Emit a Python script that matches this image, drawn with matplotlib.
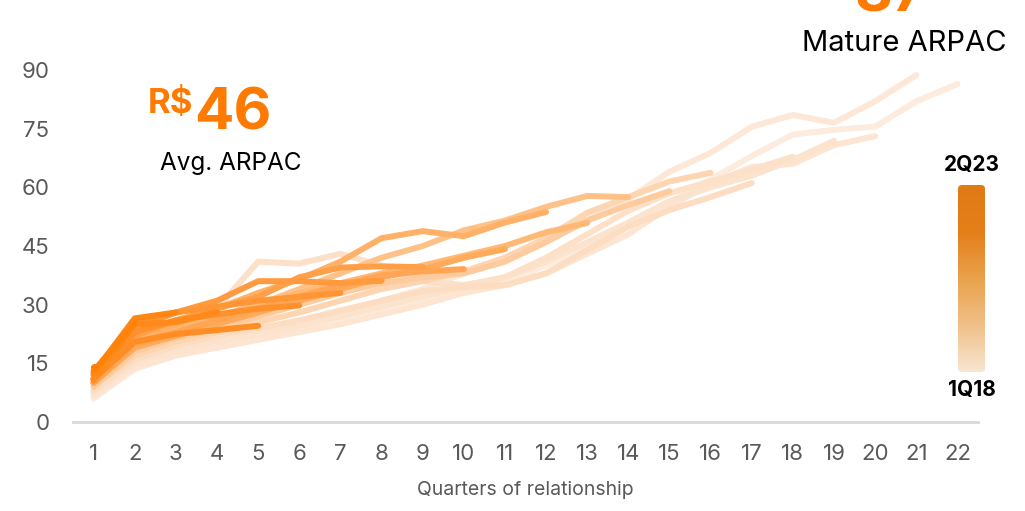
import numpy as np
import matplotlib
matplotlib.use("Agg")
import matplotlib.pyplot as plt
from matplotlib.colors import LinearSegmentedColormap
from matplotlib.patches import FancyBboxPatch

plt.rcParams["font.family"] = ["Inter", "DejaVu Sans"]

# ARPAC per cohort, by quarter of relationship (oldest cohort first)
cohorts = ["1Q18", "2Q18", "3Q18", "4Q18", "1Q19", "2Q19", "3Q19", "4Q19",
           "1Q20", "2Q20", "3Q20", "4Q20", "1Q21", "2Q21", "3Q21", "4Q21",
           "1Q22", "2Q22", "3Q22", "4Q22", "1Q23", "2Q23"]
arpac = [
    [6, 13.5, 17, 19.5, 21.5, 23.5, 26, 28.5, 31, 33.5, 36, 40, 45, 50, 56, 62, 68, 73.5, 74.7, 75.5, 82, 86.4],
    [7, 14.5, 17.5, 20, 22.5, 25, 28, 31, 34, 38, 42, 47, 52, 57, 64, 68.8, 75.5, 78.5, 76.5, 82, 88.7],
    [6.5, 14, 17, 19, 21, 23, 25, 27.5, 30, 33, 35, 38, 43, 48, 55, 61, 65.2, 66, 70.8, 73.1],
    [7.5, 15, 18.5, 20.5, 22.5, 24.5, 27, 29.5, 32, 34.5, 37, 41, 46, 51, 56.5, 60, 63, 67, 71.9],
    [8, 16, 21, 29, 41, 40.5, 43, 40, 36, 35, 37, 42, 48, 54, 58.5, 61.5, 64.5, 67.8],
    [8, 16, 19.5, 22, 24, 26, 28.5, 31, 33.5, 34.5, 35, 38, 44, 50, 54.2, 57.5, 61.1],
    [9, 17, 20.5, 23, 25.5, 28, 31, 34, 36, 38.5, 42, 47, 53.5, 57.5, 61.5, 63.7],
    [9, 18, 21.5, 24, 27, 30, 33, 35.5, 37, 38, 41, 46, 51.5, 55.5, 59],
    [10, 20, 23, 26, 30, 34, 38, 42, 45, 49, 51.5, 55, 57.8, 57.5],
    [11, 21, 24, 27, 30, 33, 35.5, 38, 40, 42.5, 45, 48.5, 50.9],
    [11, 21, 25, 29, 33, 36.5, 41, 47, 48.8, 47.5, 51, 53.7],
    [10, 19, 22, 25, 28, 31, 34, 37, 39, 42, 44.2],
    [10, 20, 23, 26, 29, 32, 35, 37.5, 38.5, 39.1],
    [11, 22, 26, 29, 32, 37, 39.5, 39.8, 39.6],
    [12, 24, 28, 31, 36, 36, 35.5, 36.1],
    [12, 25, 28, 29.5, 31, 32, 33],
    [10.5, 23, 26, 27.5, 29, 29.8],
    [11, 20.5, 22.5, 23.5, 24.6],
    [11, 25, 25.5, 28.1],
    [12.5, 26.5, 28],
    [13, 25.3],
    [14],
]
yticks = [0, 15, 30, 45, 60, 75, 90]
avg_arpac = "46"
mature_arpac = "87"

W, H = 1025, 511
fig = plt.figure(figsize=(W / 100, H / 100), dpi=100)
ax = fig.add_axes([73 / W, (H - 422) / H, (978 - 73) / W, (422 - 70) / H])

line_cmap = LinearSegmentedColormap.from_list(
    "coh", [(0, "#FDEBDD"), (0.25, "#FCDCC0"), (0.45, "#FFB46C"),
            (0.7, "#FF9638"), (1, "#FF7F00")])
n = len(cohorts)
for i, vals in enumerate(arpac):
    q = np.arange(1, len(vals) + 1)
    ax.plot(q, vals, color=line_cmap(i / (n - 1)), lw=4.3,
            solid_capstyle="round", solid_joinstyle="round", clip_on=False,
            marker="o" if len(vals) == 1 else None, ms=5, mew=0)

ax.set_xlim(0.5, 22.5)
ax.set_ylim(0, 90)
ax.set_xticks(range(1, 23))
ax.set_yticks(yticks)
for s in ["top", "right", "left"]:
    ax.spines[s].set_visible(False)
ax.spines["bottom"].set_color("#d9d9d9")
ax.spines["bottom"].set_linewidth(2)
ax.tick_params(axis="both", length=0, labelsize=16, labelcolor="#595959")
ax.tick_params(axis="y", pad=17)
ax.tick_params(axis="x", pad=16)
ax.set_xlabel("Quarters of relationship", fontsize=14, color="#595959", labelpad=12)

orange = "#FF7A00"
fig.text(193 / W, 1 - 113 / H, "R$", color=orange, fontsize=25, fontweight="bold",
         ha="right", va="baseline")
fig.text(194 / W, 1 - 130 / H, avg_arpac, color=orange, fontsize=42, fontweight="bold",
         ha="left", va="baseline")
fig.text(231 / W, 1 - 163 / H, "Avg. ARPAC", color="black", fontsize=17.5,
         ha="center", va="center")

fig.text(853 / W, 1 - (-20) / H, "R$", color=orange, fontsize=25, fontweight="bold",
         ha="right", va="baseline")
fig.text(854 / W, 1 - 11 / H, mature_arpac, color=orange, fontsize=42, fontweight="bold",
         ha="left", va="baseline")
fig.text(904 / W, 1 - 43 / H, "Mature ARPAC", color="black", fontsize=21,
         ha="center", va="center")

# colour scale bar
cax = fig.add_axes([958 / W, (H - 372) / H, 27 / W, 187 / H])
bar_cmap = LinearSegmentedColormap.from_list(
    "bar", ["#F8E6D1", "#F0C089", "#E9A24C", "#E47F1A", "#E07A14"])
grad = np.linspace(0, 1, 256).reshape(-1, 1)
im = cax.imshow(grad, cmap=bar_cmap, origin="lower", extent=[0, 27, 0, 187], aspect="auto")
clip = FancyBboxPatch((0, 0), 27, 187, boxstyle="round,pad=0,rounding_size=4",
                      transform=cax.transData, facecolor="none", edgecolor="none")
cax.add_patch(clip)
im.set_clip_path(clip)
cax.set_xlim(0, 27)
cax.set_ylim(0, 187)
cax.axis("off")
fig.text(972 / W, 1 - 165 / H, cohorts[-1], fontsize=15, fontweight="bold",
         ha="center", va="center")
fig.text(972 / W, 1 - 390 / H, cohorts[0], fontsize=15, fontweight="bold",
         ha="center", va="center")

fig.savefig("out.png", dpi=100)
